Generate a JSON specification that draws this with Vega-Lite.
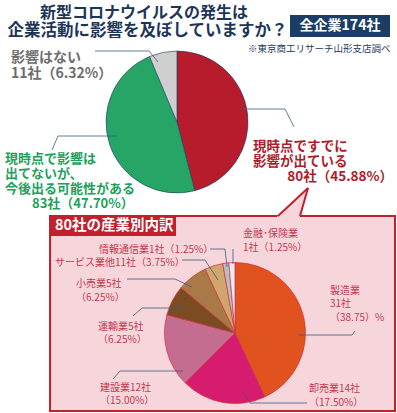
{
  "$schema": "https://vega.github.io/schema/vega-lite/v6.json",
  "width": 397,
  "height": 413,
  "padding": 0,
  "autosize": {"type": "fit", "contains": "padding"},
  "background": "white",
  "config": {"view": {"stroke": null}, "axis": {"disable": true}, "text": {"font": "Noto Sans CJK JP"}},
  "data": {"values": [{}]},
  "layer": [
    {"mark": {"type": "rect", "fill": "#f6d6db", "stroke": "#c3202e", "strokeWidth": 2},
     "encoding": {"x": {"datum": 50, "type": "quantitative", "scale": {"domain": [0, 397], "nice": false, "zero": false}},
                  "x2": {"datum": 395},
                  "y": {"datum": 216, "type": "quantitative", "scale": {"domain": [0, 413], "nice": false, "zero": false, "reverse": true}},
                  "y2": {"datum": 411}}},
    {"mark": {"type": "point", "shape": "M-1,0.934L1,-0.934L0.468,0.934Z", "filled": true, "fill": "#f6d6db", "opacity": 1, "strokeWidth": 0, "size": 999},
     "encoding": {"x": {"datum": 292.2, "type": "quantitative"}, "y": {"datum": 202.75, "type": "quantitative"}}},
    {"mark": {"type": "rule", "color": "#c3202e", "strokeWidth": 2},
     "encoding": {"x": {"datum": 278, "type": "quantitative"}, "y": {"datum": 216, "type": "quantitative"}, "x2": {"datum": 308}, "y2": {"datum": 188}}},
    {"mark": {"type": "rule", "color": "#c3202e", "strokeWidth": 2},
     "encoding": {"x": {"datum": 308, "type": "quantitative"}, "y": {"datum": 188, "type": "quantitative"}, "x2": {"datum": 300}, "y2": {"datum": 216}}},
    {"mark": {"type": "rect", "fill": "#c3202e"},
     "encoding": {"x": {"datum": 49, "type": "quantitative"}, "x2": {"datum": 176}, "y": {"datum": 215, "type": "quantitative"}, "y2": {"datum": 236}}},
    {"mark": {"type": "text", "text": "80社の産業別内訳", "fontSize": 14.5, "fontWeight": "bold", "color": "white", "align": "left", "baseline": "middle"},
     "encoding": {"x": {"datum": 55, "type": "quantitative"}, "y": {"datum": 226, "type": "quantitative"}}},
    {"data": {"values": [
        {"cat": "現時点ですでに影響が出ている", "value": 80, "k": 1},
        {"cat": "今後出る可能性がある", "value": 83, "k": 2},
        {"cat": "影響はない", "value": 11, "k": 3}]},
     "transform": [{"stack": "value", "groupby": [], "sort": [{"field": "k", "order": "ascending"}], "as": ["t0", "t1"]}],
     "mark": {"type": "arc", "outerRadius": 71, "stroke": "#1d3a5c", "strokeWidth": 0.6},
     "encoding": {"x": {"datum": 177, "type": "quantitative", "stack": false},
                  "y": {"datum": 122, "type": "quantitative", "stack": false},
                  "theta": {"field": "t0", "type": "quantitative", "scale": {"domain": [0, 174]}},
                  "theta2": {"field": "t1"},
                  "color": {"field": "cat", "type": "nominal", "legend": null,
                            "scale": {"domain": ["現時点ですでに影響が出ている", "今後出る可能性がある", "影響はない"], "range": ["#b71c2c", "#26a567", "#cfcfcf"]}}}},
    {"data": {"values": [
        {"ind": "製造業", "value": 38.75, "k": 1},
        {"ind": "卸売業", "value": 17.5, "k": 2},
        {"ind": "建設業", "value": 15, "k": 3},
        {"ind": "運輸業", "value": 6.25, "k": 4},
        {"ind": "小売業", "value": 6.25, "k": 5},
        {"ind": "サービス業他", "value": 3.75, "k": 6},
        {"ind": "情報通信業", "value": 1.25, "k": 7},
        {"ind": "金融・保険業", "value": 1.25, "k": 8}]},
     "transform": [{"stack": "value", "groupby": [], "sort": [{"field": "k", "order": "ascending"}], "as": ["s0", "s1"]}],
     "mark": {"type": "arc", "outerRadius": 70.5, "stroke": "#d03040", "strokeWidth": 0.7},
     "encoding": {"x": {"datum": 235, "type": "quantitative", "stack": false},
                  "y": {"datum": 333, "type": "quantitative", "stack": false},
                  "theta": {"field": "s0", "type": "quantitative", "scale": {"domain": [0, 90]}},
                  "theta2": {"field": "s1"},
                  "color": {"field": "ind", "type": "nominal", "legend": null,
                            "scale": {"domain": ["製造業", "卸売業", "建設業", "運輸業", "小売業", "サービス業他", "情報通信業", "金融・保険業"],
                                      "range": ["#e0531f", "#d61c6e", "#c56d90", "#7b4b22", "#a97a47", "#d1a66c", "#b9bcc4", "#e9ebf0"]}}}},
    {"mark": {"type": "rule", "color": "#3d5a80", "strokeWidth": 0.8}, "encoding": {"x": {"datum": 95, "type": "quantitative"}, "y": {"datum": 51, "type": "quantitative"}, "x2": {"datum": 149}, "y2": {"datum": 51}}},
    {"mark": {"type": "rule", "color": "#3d5a80", "strokeWidth": 0.8}, "encoding": {"x": {"datum": 149, "type": "quantitative"}, "y": {"datum": 51, "type": "quantitative"}, "x2": {"datum": 158}, "y2": {"datum": 62}}},
    {"mark": {"type": "rule", "color": "#3d5a80", "strokeWidth": 0.8}, "encoding": {"x": {"datum": 52, "type": "quantitative"}, "y": {"datum": 150, "type": "quantitative"}, "x2": {"datum": 58}, "y2": {"datum": 136}}},
    {"mark": {"type": "rule", "color": "#3d5a80", "strokeWidth": 0.8}, "encoding": {"x": {"datum": 58, "type": "quantitative"}, "y": {"datum": 136, "type": "quantitative"}, "x2": {"datum": 117}, "y2": {"datum": 136}}},
    {"mark": {"type": "rule", "color": "#3d5a80", "strokeWidth": 0.8}, "encoding": {"x": {"datum": 240, "type": "quantitative"}, "y": {"datum": 109, "type": "quantitative"}, "x2": {"datum": 285}, "y2": {"datum": 109}}},
    {"mark": {"type": "rule", "color": "#3d5a80", "strokeWidth": 0.8}, "encoding": {"x": {"datum": 285, "type": "quantitative"}, "y": {"datum": 109, "type": "quantitative"}, "x2": {"datum": 294}, "y2": {"datum": 127}}},
    {"mark": {"type": "rule", "color": "#3d5a80", "strokeWidth": 0.8}, "encoding": {"x": {"datum": 210, "type": "quantitative"}, "y": {"datum": 249, "type": "quantitative"}, "x2": {"datum": 225}, "y2": {"datum": 249}}},
    {"mark": {"type": "rule", "color": "#3d5a80", "strokeWidth": 0.8}, "encoding": {"x": {"datum": 225, "type": "quantitative"}, "y": {"datum": 249, "type": "quantitative"}, "x2": {"datum": 227}, "y2": {"datum": 267}}},
    {"mark": {"type": "rule", "color": "#3d5a80", "strokeWidth": 0.8}, "encoding": {"x": {"datum": 233, "type": "quantitative"}, "y": {"datum": 249, "type": "quantitative"}, "x2": {"datum": 233}, "y2": {"datum": 264}}},
    {"mark": {"type": "rule", "color": "#3d5a80", "strokeWidth": 0.8}, "encoding": {"x": {"datum": 182, "type": "quantitative"}, "y": {"datum": 260, "type": "quantitative"}, "x2": {"datum": 205}, "y2": {"datum": 260}}},
    {"mark": {"type": "rule", "color": "#3d5a80", "strokeWidth": 0.8}, "encoding": {"x": {"datum": 205, "type": "quantitative"}, "y": {"datum": 260, "type": "quantitative"}, "x2": {"datum": 218}, "y2": {"datum": 280}}},
    {"mark": {"type": "rule", "color": "#3d5a80", "strokeWidth": 0.8}, "encoding": {"x": {"datum": 127, "type": "quantitative"}, "y": {"datum": 279, "type": "quantitative"}, "x2": {"datum": 175}, "y2": {"datum": 279}}},
    {"mark": {"type": "rule", "color": "#3d5a80", "strokeWidth": 0.8}, "encoding": {"x": {"datum": 175, "type": "quantitative"}, "y": {"datum": 279, "type": "quantitative"}, "x2": {"datum": 192}, "y2": {"datum": 287}}},
    {"mark": {"type": "rule", "color": "#3d5a80", "strokeWidth": 0.8}, "encoding": {"x": {"datum": 133, "type": "quantitative"}, "y": {"datum": 316, "type": "quantitative"}, "x2": {"datum": 142}, "y2": {"datum": 308}}},
    {"mark": {"type": "rule", "color": "#3d5a80", "strokeWidth": 0.8}, "encoding": {"x": {"datum": 142, "type": "quantitative"}, "y": {"datum": 308, "type": "quantitative"}, "x2": {"datum": 185}, "y2": {"datum": 308}}},
    {"mark": {"type": "rule", "color": "#3d5a80", "strokeWidth": 0.8}, "encoding": {"x": {"datum": 113, "type": "quantitative"}, "y": {"datum": 379, "type": "quantitative"}, "x2": {"datum": 120}, "y2": {"datum": 371}}},
    {"mark": {"type": "rule", "color": "#3d5a80", "strokeWidth": 0.8}, "encoding": {"x": {"datum": 120, "type": "quantitative"}, "y": {"datum": 371, "type": "quantitative"}, "x2": {"datum": 183}, "y2": {"datum": 371}}},
    {"mark": {"type": "rule", "color": "#3d5a80", "strokeWidth": 0.8}, "encoding": {"x": {"datum": 299, "type": "quantitative"}, "y": {"datum": 335, "type": "quantitative"}, "x2": {"datum": 352}, "y2": {"datum": 335}}},
    {"mark": {"type": "rule", "color": "#3d5a80", "strokeWidth": 0.8}, "encoding": {"x": {"datum": 352, "type": "quantitative"}, "y": {"datum": 335, "type": "quantitative"}, "x2": {"datum": 355}, "y2": {"datum": 331}}},
    {"mark": {"type": "rule", "color": "#3d5a80", "strokeWidth": 0.8}, "encoding": {"x": {"datum": 242, "type": "quantitative"}, "y": {"datum": 392, "type": "quantitative"}, "x2": {"datum": 250}, "y2": {"datum": 403}}},
    {"mark": {"type": "rule", "color": "#3d5a80", "strokeWidth": 0.8}, "encoding": {"x": {"datum": 250, "type": "quantitative"}, "y": {"datum": 403, "type": "quantitative"}, "x2": {"datum": 307}, "y2": {"datum": 403}}},
    {"mark": {"type": "text", "text": "新型コロナウイルスの発生は", "fontSize": 16, "fontWeight": "bold", "color": "#1d3557", "align": "center", "baseline": "middle"},
     "encoding": {"x": {"datum": 144, "type": "quantitative"}, "y": {"datum": 12.5, "type": "quantitative"}}},
    {"mark": {"type": "text", "text": "企業活動に影響を及ぼしていますか？", "fontSize": 16.5, "fontWeight": "bold", "color": "#1d3557", "align": "center", "baseline": "middle"},
     "encoding": {"x": {"datum": 147.5, "type": "quantitative"}, "y": {"datum": 31, "type": "quantitative"}}},
    {"mark": {"type": "rect", "fill": "#1c3d66"},
     "encoding": {"x": {"datum": 290, "type": "quantitative"}, "x2": {"datum": 390}, "y": {"datum": 15, "type": "quantitative"}, "y2": {"datum": 37}}},
    {"mark": {"type": "text", "text": "全企業174社", "fontSize": 14, "fontWeight": "bold", "color": "white", "align": "center", "baseline": "middle"},
     "encoding": {"x": {"datum": 340, "type": "quantitative"}, "y": {"datum": 26, "type": "quantitative"}}},
    {"mark": {"type": "text", "text": "※東京商工リサーチ山形支店調べ", "fontSize": 9.5, "color": "#1d3a5c", "align": "left", "baseline": "middle"},
     "encoding": {"x": {"datum": 248, "type": "quantitative"}, "y": {"datum": 49, "type": "quantitative"}}},
    {"mark": {"type": "text", "text": ["影響はない", "11社（6.32%）"], "fontSize": 14, "lineHeight": 16, "fontWeight": "bold", "color": "#6e6e6e", "align": "left", "baseline": "top"},
     "encoding": {"x": {"datum": 11, "type": "quantitative"}, "y": {"datum": 51.3, "type": "quantitative"}}},
    {"mark": {"type": "text", "text": ["現時点で影響は", "出てないが、", "今後出る可能性がある"], "fontSize": 13, "lineHeight": 15, "fontWeight": "bold", "color": "#22a05a", "align": "left", "baseline": "top"},
     "encoding": {"x": {"datum": 5, "type": "quantitative"}, "y": {"datum": 152.7, "type": "quantitative"}}},
    {"mark": {"type": "text", "text": "83社（47.70%）", "fontSize": 13, "fontWeight": "bold", "color": "#22a05a", "align": "left", "baseline": "middle"},
     "encoding": {"x": {"datum": 32, "type": "quantitative"}, "y": {"datum": 203.5, "type": "quantitative"}}},
    {"mark": {"type": "text", "text": ["現時点ですでに", "影響が出ている"], "fontSize": 13.5, "lineHeight": 15.5, "fontWeight": "bold", "color": "#b01c2c", "align": "left", "baseline": "top"},
     "encoding": {"x": {"datum": 253, "type": "quantitative"}, "y": {"datum": 139.5, "type": "quantitative"}}},
    {"mark": {"type": "text", "text": "80社（45.88%）", "fontSize": 13.5, "fontWeight": "bold", "color": "#b01c2c", "align": "right", "baseline": "middle"},
     "encoding": {"x": {"datum": 393, "type": "quantitative"}, "y": {"datum": 177, "type": "quantitative"}}},
    {"mark": {"type": "text", "text": "情報通信業1社（1.25%）", "fontSize": 10, "color": "#c4374f", "align": "left", "baseline": "middle"},
     "encoding": {"x": {"datum": 99, "type": "quantitative"}, "y": {"datum": 250, "type": "quantitative"}}},
    {"mark": {"type": "text", "text": "サービス業他11社（3.75%）", "fontSize": 10, "color": "#c4374f", "align": "left", "baseline": "middle"},
     "encoding": {"x": {"datum": 55, "type": "quantitative"}, "y": {"datum": 263, "type": "quantitative"}}},
    {"mark": {"type": "text", "text": ["小売業5社", "（6.25%）"], "fontSize": 10, "lineHeight": 14, "color": "#c4374f", "align": "left", "baseline": "top"},
     "encoding": {"x": {"datum": 76, "type": "quantitative"}, "y": {"datum": 278.9, "type": "quantitative"}}},
    {"mark": {"type": "text", "text": ["運輸業5社", "（6.25%）"], "fontSize": 10, "lineHeight": 13, "color": "#c4374f", "align": "left", "baseline": "top"},
     "encoding": {"x": {"datum": 98, "type": "quantitative"}, "y": {"datum": 321.9, "type": "quantitative"}}},
    {"mark": {"type": "text", "text": ["建設業12社", "（15.00%）"], "fontSize": 10, "lineHeight": 13, "color": "#c4374f", "align": "left", "baseline": "top"},
     "encoding": {"x": {"datum": 100, "type": "quantitative"}, "y": {"datum": 382.9, "type": "quantitative"}}},
    {"mark": {"type": "text", "text": ["金融･保険業", "1社（1.25%）"], "fontSize": 10, "lineHeight": 14, "color": "#c4374f", "align": "left", "baseline": "top"},
     "encoding": {"x": {"datum": 243, "type": "quantitative"}, "y": {"datum": 228.9, "type": "quantitative"}}},
    {"mark": {"type": "text", "text": ["製造業", "31社", "（38.75）%"], "fontSize": 10, "lineHeight": 13.5, "color": "#c4374f", "align": "left", "baseline": "top"},
     "encoding": {"x": {"datum": 330, "type": "quantitative"}, "y": {"datum": 285.9, "type": "quantitative"}}},
    {"mark": {"type": "text", "text": ["卸売業14社", "（17.50%）"], "fontSize": 10, "lineHeight": 14, "color": "#c4374f", "align": "left", "baseline": "top"},
     "encoding": {"x": {"datum": 309, "type": "quantitative"}, "y": {"datum": 383.9, "type": "quantitative"}}}
  ],
  "resolve": {"scale": {"theta": "independent", "color": "independent"}}
}
